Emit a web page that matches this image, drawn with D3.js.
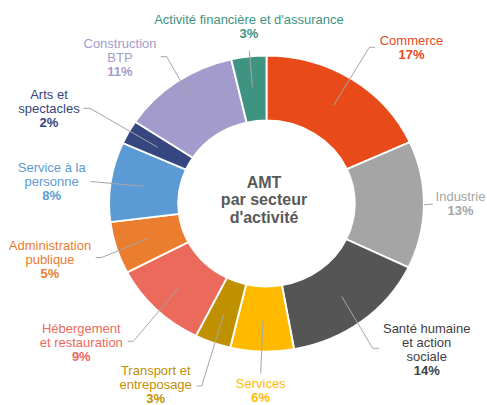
<!DOCTYPE html>
<html>
<head>
<meta charset="utf-8">
<script src="https://cdn.jsdelivr.net/npm/d3@7"></script>
<style>
  body { margin: 0; background: #fff; }
  text { font-family: "Liberation Sans", Arial, sans-serif; }
</style>
</head>
<body>
<svg width="487" height="405"></svg>
<script>
// AMT par secteur d'activité - donut
var categories = ["Commerce", "Industrie", "Santé humaine et action sociale", "Services",
  "Transport et entreposage", "Hébergement et restauration", "Administration publique",
  "Service à la personne", "Arts et spectacles", "Construction BTP",
  "Activité financière et d'assurance"];
// slice sizes as measured on the ring
var shares = [18.2, 13.9, 15.1, 6.5, 3.7, 9.9, 5.7, 8.7, 2.6, 12.1, 3.6];
// printed percentages
var pctLabels = ["17%", "13%", "14%", "6%", "3%", "9%", "5%", "8%", "2%", "11%", "3%"];
var colors = ["#E84A1A", "#A5A5A5", "#555555", "#FFBA00", "#BF9000", "#EC6A5C",
  "#EB7D2F", "#5B9BD5", "#364680", "#A29BCB", "#3F9381"];
var textColors = ["#E84A1A", "#A5A5A5", "#404040", "#FFBA00", "#BF9000", "#EC6A5C",
  "#EB7D2F", "#5B9BD5", "#364680", "#A29BCB", "#3F9381"];

// label layout: x centre, first baseline, wrapped lines, leader path
var layout = [
  {x: 411.5, y: 45, lines: ["Commerce"], r: 0.79, pts: [[369.3, 47.3], [375, 47.3]]},
  {x: 460.5, y: 201, lines: ["Industrie"], r: 1.0, pts: [[433, 204]]},
  {x: 426.7, y: 333, lines: ["Santé humaine", "et action", "sociale"], r: 0.79, pts: [[372.7, 348.3], [379, 348.3]]},
  {x: 260.7, y: 388, lines: ["Services"], r: 0.79, pts: [[260.7, 373.3]]},
  {x: 155.7, y: 375, lines: ["Transport et", "entreposage"], r: 0.79, pts: [[201.7, 386], [196.7, 386]]},
  {x: 81.3, y: 333, lines: ["Hébergement", "et restauration"], r: 0.79, pts: [[133.3, 341.3], [127.7, 341.3]]},
  {x: 50, y: 249.5, lines: ["Administration", "publique"], r: 0.79, pts: [[101.7, 257.5], [95.7, 257.5]]},
  {x: 51.7, y: 172, lines: ["Service à la", "personne"], r: 0.79, pts: [[90.7, 181.5]]},
  {x: 49, y: 99, lines: ["Arts et", "spectacles"], r: 0.79, pts: [[90, 108.3], [83.3, 108.3]]},
  {x: 120, y: 48, lines: ["Construction", "BTP"], r: 0.79, pts: [[166.7, 56.7], [160.7, 56.7]]},
  {x: 249, y: 24, lines: ["Activité financière et d'assurance"], r: 0.79, pts: [[249.3, 50.7]]}
];

var svg = d3.select("svg");
var cx = 266.5, cy = 203.5,
    R = 148, r0 = 83,
    sx = 157.4 / 148;   // ring is slightly wider than tall

var data = categories.map(function(c, i) { return {name: c, value: shares[i], i: i}; });

var pie = d3.pie().sort(null).value(function(d) { return d.value; });
var arc = d3.arc().innerRadius(r0).outerRadius(R);

var ring = svg.append("g")
    .attr("transform", "translate(" + cx + "," + cy + ") scale(" + sx + ",1)");

var arcs = pie(data);

ring.selectAll("path")
    .data(arcs)
  .enter().append("path")
    .attr("d", arc)
    .attr("fill", function(d) { return colors[d.data.i]; })
    .attr("stroke", "#fff")
    .attr("stroke-width", 1.8);

// leader lines
var line = d3.line();
svg.selectAll(".leader")
    .data(arcs)
  .enter().append("path")
    .attr("class", "leader")
    .attr("fill", "none")
    .attr("stroke", "#A6A6A6")
    .attr("stroke-width", 1)
    .attr("d", function(d) {
      var L = layout[d.data.i];
      var rr = R * L.r;
      var p = d3.arc().innerRadius(rr).outerRadius(rr).centroid(d);
      var start = [cx + p[0] * sx, cy + p[1]];
      return line([start].concat(L.pts));
    });

// labels
var labels = svg.selectAll(".lbl")
    .data(arcs)
  .enter().append("text")
    .attr("class", "lbl")
    .attr("text-anchor", "middle")
    .attr("font-size", "13px")
    .attr("fill", function(d) { return textColors[d.data.i]; });

labels.each(function(d) {
  var L = layout[d.data.i];
  var t = d3.select(this);
  L.lines.forEach(function(s, k) {
    t.append("tspan").attr("x", L.x).attr("y", L.y + k * 14).text(s);
  });
  t.append("tspan").attr("x", L.x).attr("y", L.y + L.lines.length * 14)
    .attr("font-weight", "bold").text(pctLabels[d.data.i]);
});

// centre title
var title = ["AMT", "par secteur", "d'activité"];
svg.append("text")
    .attr("text-anchor", "middle")
    .attr("font-size", "16px")
    .attr("font-weight", "bold")
    .attr("fill", "#595959")
  .selectAll("tspan")
    .data(title)
  .enter().append("tspan")
    .attr("x", 264)
    .attr("y", function(d, i) { return 187.5 + i * 17.5; })
    .text(function(d) { return d; });
</script>
</body>
</html>
